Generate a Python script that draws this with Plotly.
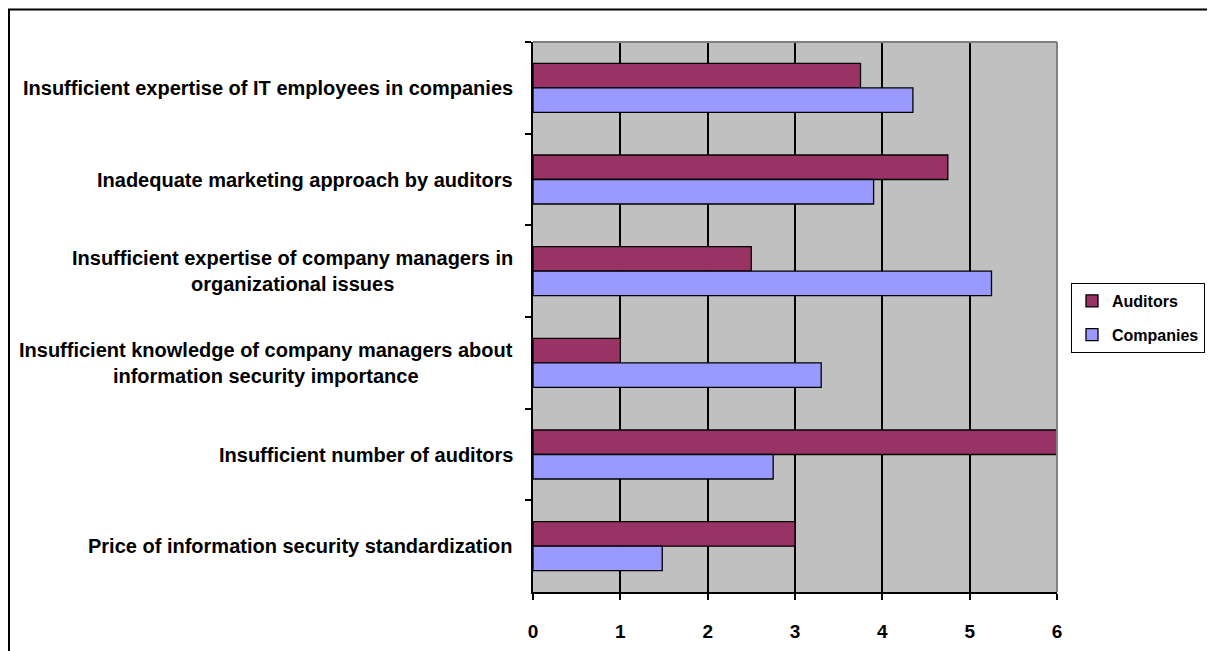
import plotly.graph_objects as go

categories = [
    "Insufficient expertise of IT employees in companies",
    "Inadequate marketing approach by auditors",
    "Insufficient expertise of company managers in<br>organizational issues",
    "Insufficient knowledge of company managers about<br>information security importance",
    "Insufficient number of auditors",
    "Price of information security standardization",
]
auditors = [3.75, 4.75, 2.5, 1.0, 6.0, 3.0]
companies = [4.35, 3.9, 5.25, 3.3, 2.75, 1.48]
x_ticks = [0, 1, 2, 3, 4, 5, 6]
series_names = ["Auditors", "Companies"]

# page body has an 8px margin; work in screen pixels and shift
OFF = 8
SW, SH = 1215, 651
W, H = SW - OFF, SH - OFF
# plot area in screen pixels
PL, PR, PT, PB = 533, 1057, 42, 592
ML, MR, MT, MB = PL - OFF, SW - PR, PT - OFF, SH - PB
PW, PH = PR - PL, PB - PT


def px_x(sx):
    return (sx - PL) / PW


def px_y(sy):
    return (PB - sy) / PH


FONT = "Arial, Liberation Sans, sans-serif"

fig = go.Figure()
fig.add_trace(go.Bar(
    y=categories, x=auditors, orientation="h", name=series_names[0],
    marker=dict(color="#993366", line=dict(color="black", width=1.3)),
    legendgroup="a",
))
fig.add_trace(go.Bar(
    y=categories, x=companies, orientation="h", name=series_names[1],
    marker=dict(color="#9999FF", line=dict(color="black", width=1.3)),
    legendgroup="c",
))

for c in categories:
    fig.add_annotation(
        x=0, xref="paper", y=c, yref="y", text=c, showarrow=False,
        xanchor="right", yanchor="middle", align="center", xshift=-18,
        font=dict(family=FONT, size=20, color="black", weight="bold"),
    )

shapes = [
    dict(type="rect", xref="paper", yref="paper",
         x0=px_x(9), x1=px_x(1260), y0=px_y(700), y1=px_y(9.5),
         line=dict(color="black", width=2), fillcolor="rgba(0,0,0,0)", layer="below"),
    dict(type="line", xref="paper", yref="paper", x0=0, x1=1, y0=1, y1=1,
         line=dict(color="#808080", width=2), layer="above"),
    dict(type="line", xref="paper", yref="paper", x0=1, x1=1, y0=0, y1=1,
         line=dict(color="#808080", width=2), layer="above"),
]

fig.update_layout(
    width=W, height=H,
    margin=dict(l=ML, r=MR, t=MT, b=MB, pad=0, autoexpand=False),
    paper_bgcolor="white", plot_bgcolor="#C0C0C0",
    barmode="group", bargap=0.465, bargroupgap=0,
    showlegend=True,
    legend=dict(
        x=px_x(1071), y=px_y(283), xanchor="left", yanchor="top",
        bordercolor="black", borderwidth=1, bgcolor="white",
        font=dict(family=FONT, size=16, color="black", weight="bold"),
        traceorder="grouped", tracegroupgap=10, itemwidth=30,
    ),
    shapes=shapes,
    font=dict(family=FONT, color="black"),
)
fig.update_xaxes(
    range=[0, 6], tickvals=x_ticks, ticktext=[str(v) for v in x_ticks],
    showgrid=True, gridcolor="black", gridwidth=1.5,
    showline=True, linecolor="black", linewidth=1.5,
    ticks="outside", ticklen=6, tickcolor="black", tickwidth=1.5,
    tickfont=dict(family=FONT, size=19, color="black", weight="bold"),
    ticklabelstandoff=15, zeroline=False, fixedrange=True, automargin=False,
)
fig.update_yaxes(
    type="category", autorange="reversed", showticklabels=False,
    ticks="outside", tickson="boundaries", ticklen=6, tickcolor="black", tickwidth=1.5,
    showline=True, linecolor="black", linewidth=1.5, showgrid=False, automargin=False,
)

fig.write_html("out.html")
